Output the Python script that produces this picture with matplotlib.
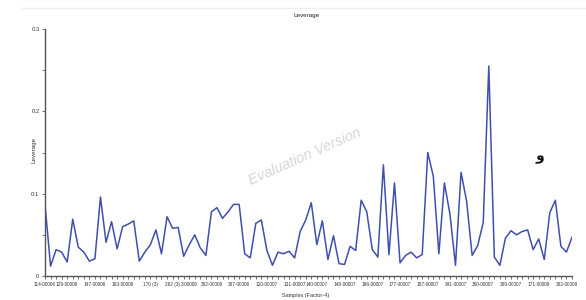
import matplotlib
matplotlib.use("Agg")
import matplotlib.pyplot as plt
from matplotlib.lines import Line2D
import numpy as np

leverage = [0.087, 0.012, 0.032, 0.029, 0.017, 0.069, 0.035, 0.029, 0.018, 0.021,
            0.096, 0.041, 0.066, 0.033, 0.060, 0.063, 0.067, 0.018, 0.029, 0.038,
            0.056, 0.027, 0.072, 0.058, 0.059, 0.024, 0.038, 0.050, 0.034, 0.025,
            0.078, 0.083, 0.070, 0.078, 0.087, 0.087, 0.027, 0.022, 0.064, 0.068,
            0.031, 0.013, 0.029, 0.027, 0.030, 0.022, 0.054, 0.068, 0.089, 0.038,
            0.067, 0.020, 0.049, 0.015, 0.014, 0.036, 0.031, 0.092, 0.078, 0.032,
            0.023, 0.135, 0.026, 0.113, 0.016, 0.025, 0.029, 0.022, 0.026, 0.150,
            0.121, 0.027, 0.113, 0.075, 0.013, 0.126, 0.091, 0.025, 0.037, 0.065,
            0.255, 0.023, 0.013, 0.046, 0.055, 0.050, 0.054, 0.056, 0.032, 0.045,
            0.020, 0.077, 0.092, 0.036, 0.029, 0.047]

tick_positions = [0, 4, 9, 14, 19, 23, 26, 30, 35, 40, 45, 49, 54, 59, 64, 69, 74, 79, 84, 89, 94]
tick_labels = ["114-00006", "129-00006", "147-00006", "163-00006", "170 (3)", "262 (3)",
               "3-00006", "362-00006", "367-00006", "120-00007", "131-00007", "140-00007",
               "148-00007", "166-00007", "177-00007", "187-00007", "341-00007", "360-00007",
               "369-00007", "171-00008", "362-00008"]
y_ticks = [0, 0.1, 0.2, 0.3]
y_tick_labels = ["0", "0.1", "0.2", "0.3"]

plt.rcParams['font.family'] = ['Liberation Sans', 'DejaVu Sans']

fig = plt.figure(figsize=(5.86, 3.0), dpi=100)
ax = fig.add_axes([45/586, 1 - 276/300, (572 - 45)/586, (276 - 29)/300])

x = np.arange(len(leverage))
ax.plot(x, leverage, color='#3f4fae', linewidth=1.1)

ax.set_xlim(0, len(leverage) - 1)
ax.set_ylim(0, 0.3)

for s in ['top', 'right']:
    ax.spines[s].set_visible(False)
for s in ['left', 'bottom']:
    ax.spines[s].set_color('#555555')
    ax.spines[s].set_linewidth(1.0)

ax.set_xticks(tick_positions)
ax.set_xticklabels(tick_labels, fontsize=3.4, color='#333333')
ax.set_xticks(x, minor=True)
ax.set_yticks(y_ticks)
ax.set_yticklabels(y_tick_labels, fontsize=4.2, color='#333333')
ax.set_yticks(np.arange(0, 0.301, 0.05), minor=True)
ax.tick_params(axis='both', which='both', direction='out', length=2.5, width=0.6,
               color='#555555', pad=1.5)

fig.text(307/586, 1 - 16/300, "Leverage", fontsize=4.5, ha='center', va='center', color='#222222')
fig.text(34/586, 1 - 150/300, "Leverage", fontsize=4.5, rotation=90, ha='center', va='center',
         color='#333333')
fig.text(306/586, 1 - 296/300, "Samples (Factor-4)", fontsize=4, ha='center', va='center',
         color='#333333')

fig.text(305/586, 1 - 157/300, "Evaluation Version", fontsize=10.5, rotation=24, style='italic',
         ha='center', va='center', color='#d6d6d6')
fig.text(540/586, 1 - 157/300, "و", fontsize=10, fontweight='bold', ha='center', va='center',
         color='#111111', family=['DejaVu Sans'])

fig.add_artist(Line2D([22/586, 1], [1 - 8/300, 1 - 8/300], transform=fig.transFigure,
                      color='#eeeeee', linewidth=1.0))

fig.savefig("out.png", dpi=100)
